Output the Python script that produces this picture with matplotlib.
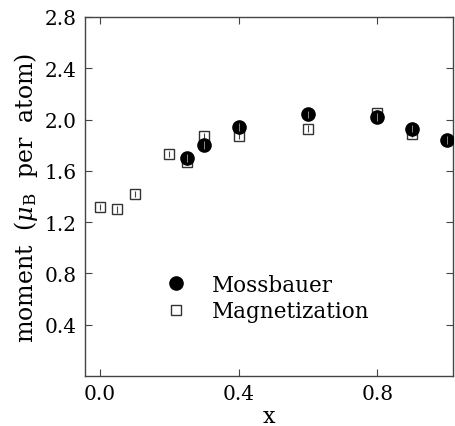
import matplotlib
matplotlib.use("Agg")
import matplotlib.pyplot as plt

plt.rcParams['font.family'] = ['DejaVu Serif']
plt.rcParams['mathtext.fontset'] = 'dejavuserif'

# Mossbauer data
x_moss = [0.25, 0.30, 0.40, 0.60, 0.80, 0.90, 1.00]
m_moss = [1.70, 1.80, 1.94, 2.04, 2.02, 1.93, 1.84]
err_moss = [0.03] * len(x_moss)

# Magnetization data
x_mag = [0.00, 0.05, 0.10, 0.20, 0.25, 0.30, 0.40, 0.60, 0.80, 0.90]
m_mag = [1.32, 1.30, 1.42, 1.73, 1.67, 1.87, 1.87, 1.93, 2.05, 1.89]
err_mag = [0.025] * len(x_mag)

xticks = [0.0, 0.4, 0.8]
yticks = [0.4, 0.8, 1.2, 1.6, 2.0, 2.4, 2.8]

fig = plt.figure(figsize=(4.55, 4.27), dpi=100)
ax = fig.add_axes([85/455, 50/427, 368/455, 359/427])

h_mag, = ax.plot(x_mag, m_mag, 's', mfc='white', mec='#333333', mew=1.0,
                 ms=6.5, linestyle='none', label='Magnetization', zorder=2)
ax.errorbar(x_mag, m_mag, yerr=err_mag, fmt='none', ecolor='#444444',
            elinewidth=0.8, capsize=0, zorder=2.5)
h_moss, = ax.plot(x_moss, m_moss, 'o', color='black', ms=9.5,
                  linestyle='none', label='Mossbauer', zorder=3)
ax.errorbar(x_moss, m_moss, yerr=err_moss, fmt='none', ecolor='#888888',
            elinewidth=0.7, capsize=0, zorder=3.5)

ax.set_xlim(-0.043, 1.018)
ax.set_ylim(0, 2.8)
ax.set_xticks(xticks)
ax.set_xticklabels([f'{v:.1f}' for v in xticks])
ax.set_yticks(yticks)
ax.set_yticklabels([f'{v:.1f}' for v in yticks])
ax.tick_params(direction='in', top=True, right=True, length=5, width=0.8,
               color='#444444', labelsize=14.5, pad=6)
for s in ax.spines.values():
    s.set_color('#444444')
    s.set_linewidth(1.0)

ax.set_xlabel('x', fontsize=16, labelpad=1)
ax.set_ylabel(r'moment  ($\mu_{\rm B}$  per  atom)', fontsize=17, labelpad=3)

ax.legend([h_moss, h_mag], ['Mossbauer', 'Magnetization'], loc='upper left',
          bbox_to_anchor=(0.217, 0.285), frameon=False, fontsize=15.5,
          borderpad=0, borderaxespad=0, handlelength=1.0,
          handletextpad=1.19, labelspacing=0.21)

fig.savefig('out.png', dpi=100)
